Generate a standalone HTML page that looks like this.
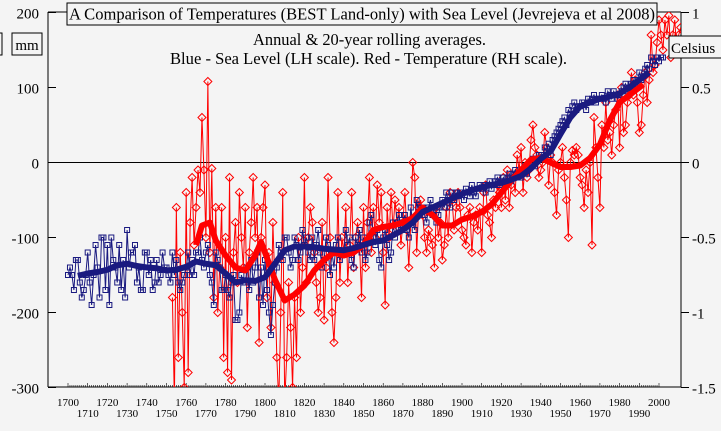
<!DOCTYPE html>
<html><head><meta charset="utf-8">
<style>
html,body{margin:0;padding:0;background:#f4f4f4;}
svg{display:block;font-family:"Liberation Serif",serif;}
</style></head>
<body>
<svg id="chart" width="721" height="431" viewBox="0 0 721 431">
<rect x="0" y="0" width="721" height="431" fill="#f4f4f4"/>
<defs><clipPath id="plotclip"><rect x="48" y="12" width="633" height="375"/></clipPath></defs>
<g id="axes"></g>
<g id="series" clip-path="url(#plotclip)"></g>
<rect x="67" y="3" width="590" height="22" fill="#f4f4f4" stroke="#000" stroke-width="1"/>
<text x="69" y="19.5" font-size="16.5" textLength="586" lengthAdjust="spacingAndGlyphs">A Comparison of Temperatures (BEST Land-only) with Sea Level (Jevrejeva et al 2008)</text>
<text x="253" y="45" font-size="16.5" textLength="233" lengthAdjust="spacingAndGlyphs">Annual &amp; 20-year rolling averages.</text>
<text x="170" y="64" font-size="16.5" textLength="397" lengthAdjust="spacingAndGlyphs">Blue - Sea Level (LH scale).  Red - Temperature (RH scale).</text>
<rect x="12" y="33" width="30" height="22" fill="#f4f4f4" stroke="#000"/>
<text x="27" y="50" font-size="15" text-anchor="middle">mm</text>
<rect x="-5" y="33" width="7" height="22" fill="none" stroke="#000"/>
<rect x="669" y="36" width="55" height="22" fill="#f4f4f4" stroke="#000"/>
<text x="671" y="53" font-size="15">Celsius</text>
</svg>
<script>
const slStart = 1700;
const seaLevelAnnual = [
-150,-140,-150,-170,-130,-130,-160,-180,-170,-150,
-120,-160,-190,-150,-110,-140,-180,-100,-100,-170,
-110,-190,-100,-130,-140,-160,-110,-170,-130,-180,
-90,-140,-120,-120,-110,-160,-140,-170,-170,-120,
-120,-150,-130,-170,-160,-130,-160,-150,-120,-140,
-140,-150,-160,-120,-150,-130,-160,-170,-160,-150,
-140,-120,-150,-130,-150,-120,-120,-100,-130,-140,
-120,-110,-150,-160,-190,-120,-130,-140,-170,-170,
-150,-170,-180,-160,-150,-210,-210,-200,-150,-160,
-160,-140,-170,-130,-160,-140,-120,-180,-140,-190,
-130,-170,-200,-230,-190,-160,-140,-110,-120,-130,
-100,-100,-120,-140,-130,-100,-110,-130,-120,-90,
-110,-100,-120,-130,-100,-130,-110,-90,-120,-140,
-130,-100,-110,-150,-120,-140,-110,-100,-130,-120,
-120,-90,-110,-100,-130,-140,-100,-110,-90,-120,
-100,-130,-120,-80,-70,-100,-110,-90,-130,-140,
-100,-90,-110,-130,-120,-80,-100,-80,-70,-90,
-80,-70,-90,-100,-60,-80,-90,-50,-70,-60,
-60,-70,-80,-60,-50,-70,-60,-80,-70,-60,
-50,-60,-40,-50,-60,-40,-50,-40,-45,-40,
-40,-50,-35,-40,-45,-30,-40,-45,-35,-30,
-35,-30,-40,-30,-25,-35,-30,-25,-20,-30,
-25,-20,-30,-20,-15,-25,-15,-10,-20,-15,
-20,-10,-5,-15,-5,0,5,-5,5,10,
10,5,20,15,25,10,30,35,40,45,
50,55,60,50,70,65,75,80,70,75,
75,80,80,70,85,80,85,90,80,85,
85,90,85,80,95,90,85,95,90,85,
90,95,100,105,95,100,105,110,100,110,
120,110,115,125,130,125,140,135,130,140,
135,140,140];
const slRollYears = [1705,1710,1715,1720,1725,1730,1735,1740,1745,1750,1755,1760,1765,1770,1775,1780,1785,1790,1795,1800,1805,1810,1815,1820,1825,1830,1835,1840,1845,1850,1855,1860,1865,1870,1875,1880,1885,1890,1895,1900,1905,1910,1915,1920,1925,1930,1935,1940,1945,1950,1955,1960,1965,1970,1975,1980,1985,1990,1995];
const slRolling = [-151,-148,-146,-143,-137,-135,-138,-140,-141,-144,-143,-139,-132,-135,-137,-148,-160,-157,-158,-153,-135,-117,-112,-112,-113,-115,-116,-117,-114,-110,-106,-104,-97,-90,-80,-66,-60,-54,-48,-42,-37,-33,-30,-27,-23,-18,-8,5,15,38,60,75,80,85,88,92,100,110,120];
const tStart = 1753;
const tempAnnual = [
-0.9,-1.6,-0.3,-1.3,-0.6,
-1.0,-1.5,-0.2,-1.4,-0.4,-0.1,-0.55,-0.3,-0.05,-0.2,
0.3,-0.05,-0.5,0.54,-0.6,-0.04,-0.9,-0.3,-1.0,-0.7,
-0.3,-1.3,-0.5,-1.4,-0.1,-1.45,-0.6,-0.4,-0.8,-0.2,
-0.5,-0.7,-0.3,-1.1,-0.6,-0.4,-0.1,-0.5,-0.3,-1.2,
-0.5,-0.3,-0.15,-0.9,-0.6,-1.1,-0.4,-0.8,-1.3,-1.6,
-1.0,-0.2,-1.6,-1.3,-0.8,-1.1,-1.5,-0.9,-1.3,-0.5,
-1.0,-0.7,-0.1,-0.8,-0.5,-0.3,-0.4,-0.6,-0.8,-1.0,
-0.9,-0.4,-1.05,-0.7,-0.1,-0.5,-1.0,-1.2,-0.9,-0.2,
-0.8,-0.5,-0.6,-0.3,-0.8,-0.55,-0.2,-0.7,-0.5,-0.4,
-0.55,-0.9,-0.3,-0.7,-0.4,-0.1,-0.6,-0.3,-0.5,-0.15,
-0.4,-0.2,-0.6,-0.95,-0.3,-0.5,-0.2,-0.45,-0.25,-0.4,
-0.3,-0.55,-0.4,-0.2,-0.45,-0.7,-0.4,0.0,-0.1,-0.6,
-0.3,-0.25,-0.35,-0.5,-0.6,-0.45,-0.5,-0.55,-0.7,-0.3,
-0.5,-0.4,-0.65,-0.55,-0.3,-0.5,-0.2,-0.25,-0.45,-0.3,
-0.2,-0.3,-0.45,-0.5,-0.55,-0.35,-0.3,-0.6,-0.4,-0.35,
-0.45,-0.3,-0.6,-0.2,-0.15,-0.35,-0.4,-0.5,-0.25,-0.3,
-0.15,-0.2,-0.3,-0.1,-0.25,-0.05,-0.3,-0.15,-0.1,-0.2,
0.05,-0.05,0.1,-0.2,0.0,-0.1,-0.05,0.15,0.25,0.1,
0.05,-0.1,-0.05,0.0,0.2,0.1,-0.15,0.05,0.0,-0.2,
-0.35,-0.05,0.0,0.1,-0.1,-0.25,-0.5,0.0,0.08,0.05,
0.1,0.05,-0.1,-0.15,-0.3,-0.05,-0.2,0.0,-0.55,0.3,
0.1,-0.1,-0.3,0.25,0.1,0.4,0.15,0.2,0.05,0.25,
0.35,0.45,0.1,0.5,0.2,0.25,0.4,0.45,0.6,0.45,
0.55,0.4,0.2,0.25,0.45,0.6,0.4,0.55,0.85,0.6,
0.65,0.8,0.95,0.85,0.75,0.95,0.85,0.98,0.7,0.85,
0.95,0.75,0.85,0.9];
const tRollYears = [1765,1768,1772,1775,1780,1785,1790,1795,1798,1800,1805,1810,1815,1820,1825,1830,1835,1840,1845,1850,1855,1860,1865,1870,1875,1880,1885,1890,1895,1900,1905,1910,1915,1920,1925,1930,1935,1940,1945,1950,1955,1960,1965,1970,1975,1980,1985,1990,1992];
const tRolling = [-0.55,-0.42,-0.4,-0.52,-0.62,-0.7,-0.72,-0.62,-0.53,-0.6,-0.78,-0.92,-0.88,-0.82,-0.72,-0.65,-0.6,-0.62,-0.6,-0.55,-0.45,-0.43,-0.42,-0.4,-0.37,-0.3,-0.35,-0.42,-0.42,-0.38,-0.36,-0.33,-0.28,-0.2,-0.12,-0.05,0.02,0.03,0.0,-0.03,-0.03,-0.02,0.03,0.12,0.28,0.4,0.45,0.5,0.52];
const leftTicks = [200,100,0,-100,-200,-300];
const rightTicks = ['1','0.5','0','-0.5','-1','-1.5'];

const NS='http://www.w3.org/2000/svg';
const X0=48,X1=681,Y0=12,Y1=387;
function xs(yr){return 68+(yr-1700)*1.97;}
function ymm(v){return 162.5-v*0.75;}
function yT(t){return ymm(t*200);}
function mk(tag,attrs,parent){const e=document.createElementNS(NS,tag);for(const k in attrs)e.setAttribute(k,attrs[k]);parent.appendChild(e);return e;}
const axes=document.getElementById('axes');
const ser=document.getElementById('series');

let e=mk('line',{x1:X0,y1:Y0,x2:X0,y2:Y1,stroke:'#000'},axes);


e=mk('line',{x1:X1,y1:Y0,x2:X1,y2:Y1,stroke:'#000'},axes);


e=mk('line',{x1:X0,y1:Y1,x2:X1,y2:Y1,stroke:'#000'},axes);


e=mk('line',{x1:X0,y1:ymm(0),x2:X1,y2:ymm(0),stroke:'#000'},axes);


e=mk('line',{x1:X0,y1:Y0,x2:67,y2:Y0,stroke:'#000'},axes);


e=mk('line',{x1:657,y1:Y0,x2:X1,y2:Y0,stroke:'#000'},axes);



leftTicks.forEach((v,i)=>{
  const y=ymm(v);
  mk('line',{x1:X0,y1:y,x2:X0+8,y2:y,stroke:'#000'},axes);
  const t=mk('text',{x:39,y:y+6,'font-size':15,'text-anchor':'end'},axes);
  t.textContent=String(v);
  
  
  mk('line',{x1:X1,y1:y,x2:X1+8,y2:y,stroke:'#000'},axes);
  const r=mk('text',{x:692,y:y+6,'font-size':15},axes);
  r.textContent=rightTicks[i];
  
  
});
for(let yr=1700;yr<=2000;yr++){
  const x=xs(yr);
  mk('line',{x1:x,y1:Y1,x2:x,y2:Y1-(yr%10===0?4:2),stroke:'#000','stroke-width':0.6},axes);
  if(yr%10===0){
    const t=mk('text',{x:x,y:(yr%20===0?406:417),'font-size':11,'text-anchor':'middle'},axes);
    t.textContent=String(yr);
    
    
  }
}

let pts=tempAnnual.map((v,i)=>xs(tStart+i)+','+yT(v)).join(' ');
e=mk('polyline',{points:pts,fill:'none',stroke:'#f00','stroke-width':1},ser);


tempAnnual.forEach((v,i)=>{
  const x=xs(tStart+i),y=yT(v);
  const d=mk('polygon',{points:`${x},${y-4} ${x+4},${y} ${x},${y+4} ${x-4},${y}`,fill:'none',stroke:'#f00','stroke-width':1},ser);
  
  
});
pts=seaLevelAnnual.map((v,i)=>xs(slStart+i)+','+ymm(v)).join(' ');
e=mk('polyline',{points:pts,fill:'none',stroke:'#1a1a80','stroke-width':1},ser);


seaLevelAnnual.forEach((v,i)=>{
  const x=xs(slStart+i),y=ymm(v);
  const s=mk('rect',{x:x-2.5,y:y-2.5,width:5,height:5,fill:'none',stroke:'#1a1a80','stroke-width':1},ser);
  
  
});
pts=tRollYears.map((yr,i)=>xs(yr)+','+yT(tRolling[i])).join(' ');
e=mk('polyline',{points:pts,fill:'none',stroke:'#f00','stroke-width':6,'stroke-linejoin':'round'},ser);


pts=slRollYears.map((yr,i)=>xs(yr)+','+ymm(slRolling[i])).join(' ');
e=mk('polyline',{points:pts,fill:'none',stroke:'#1a1a80','stroke-width':6,'stroke-linejoin':'round'},ser);


</script>
</body></html>
